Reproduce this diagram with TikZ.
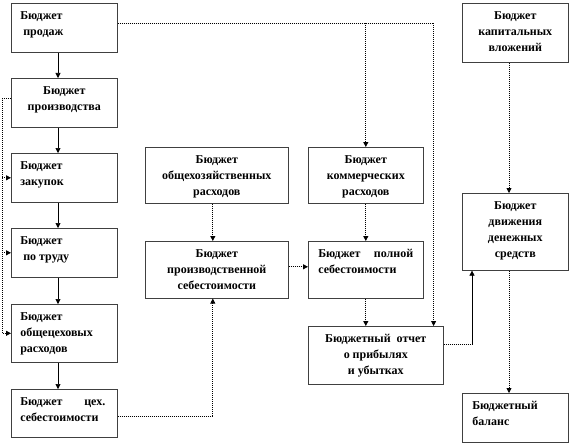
\documentclass[tikz,border=0pt]{standalone}
\usepackage{fontspec}
\setmainfont{Liberation Serif}
\usetikzlibrary{arrows.meta}
\tikzset{
  box/.style={draw=black!75, line width=0.6pt, inner sep=0pt, anchor=north west,
    font=\fontsize{12}{16}\selectfont\bfseries},
  solarr/.style={draw=black, line width=0.6pt, -{Triangle[length=5pt,width=5pt]}},
  dotln/.style={draw=black, line width=0.8pt, dash pattern=on 1pt off 1pt},
  dotarr/.style={dotln, -{Triangle[length=5pt,width=5pt]}},
  solln/.style={draw=black, line width=0.6pt}
}
\newcommand\bx[7]{\node[box] (#1) at (#2,#3) {\parbox[c][#5pt][t]{#4pt}{\vspace*{5pt}#6\strut #7\par}};}
\begin{document}
\begin{tikzpicture}[x=1pt,y=-1pt]
\useasboundingbox (0,0) rectangle (570,444);
% left column
\bx{prod}{11}{3}{106}{49}{\leftskip=9pt\relax}{Бюджет\\\hspace*{3pt}продаж}
\bx{proiz}{11}{78}{106}{49}{\centering}{Бюджет\\производства}
\bx{zak}{11}{153}{106}{49}{\leftskip=9pt\relax}{Бюджет\\закупок}
\bx{trud}{11}{228}{106}{49}{\leftskip=9pt\relax}{Бюджет\\\hspace*{3pt}по труду}
\bx{obsh}{11}{304}{106}{58}{\leftskip=9pt\relax}{Бюджет\\общецеховых\\расходов}
\bx{tseh}{11}{389}{106}{48}{\leftskip=9pt\relax}{\makebox[85pt][l]{Бюджет\hfill цех.}\\себестоимости}
% middle
\bx{ohoz}{145}{147}{143}{56}{\centering}{Бюджет\\общехозяйственных\\расходов}
\bx{ps}{145}{241}{143}{57}{\centering}{Бюджет\\производственной\\себестоимости}
\bx{kom}{308}{147}{115}{56}{\centering}{Бюджет\\коммерческих\\расходов}
\bx{poln}{308}{241}{115}{57}{\leftskip=10pt\relax}{\makebox[95pt][l]{Бюджет\hfill полной}\\себестоимости}
\bx{otch}{308}{326}{135}{58}{\centering}{Бюджетный\ \ отчет\\о прибылях\\и убытках}
% right
\bx{kap}{462}{3}{106}{59}{\centering}{Бюджет\\капитальных\\вложений}
\bx{dv}{462}{193}{106}{77}{\centering}{Бюджет\\движения\\денежных\\средств}
\bx{bal}{462}{393}{106}{49}{\leftskip=10pt\relax}{Бюджетный\\баланс}
% helper coordinates
\coordinate (LC) at (58,0);
\coordinate (L) at (2,0);
\coordinate (TOP) at (0,23);
\coordinate (C) at (472,344);
\coordinate (RC) at (509,0);
% left column solid arrows
\draw[solarr] (prod.south -| LC) -- (proiz.north -| LC);
\draw[solarr] (proiz.south -| LC) -- (zak.north -| LC);
\draw[solarr] (zak.south -| LC) -- (trud.north -| LC);
\draw[solarr] (trud.south -| LC) -- (obsh.north -| LC);
\draw[solarr] (obsh.south -| LC) -- (tseh.north -| LC);
% left dotted feedback
\draw[dotarr] ([yshift=4pt]proiz.west) -| (L |- obsh.west) -- (obsh.west);
\draw[dotarr] (L |- zak.west) -- (zak.west);
\draw[dotarr] (L |- trud.west) -- (trud.west);
% top dotted line
\draw[dotarr] (prod.east |- TOP) -| ([xshift=-10pt]otch.north east);
\draw[dotarr] (kom.north |- TOP) -- (kom.north);
% middle
\draw[dotarr] ([xshift=-4pt]ohoz.south) -- ([xshift=-4pt]ps.north);
\draw[dotarr] (kom.south) -- (poln.north);
\draw[dotarr] ([yshift=3pt]ps.east) -- ([yshift=3pt]ps.east -| poln.west);
\draw[dotarr] (poln.south) -- (poln.south |- otch.north);
\draw[dotarr] ([yshift=-3pt]tseh.east) -| ([xshift=-4pt]ps.south);
% right
\draw[dotln] (otch.east |- C) -- (C);
\draw[solarr] (C) -- (C |- dv.south);
\draw[dotarr] (kap.south -| RC) -- (dv.north -| RC);
\draw[dotarr] (dv.south -| RC) -- (bal.north -| RC);
\end{tikzpicture}
\end{document}
